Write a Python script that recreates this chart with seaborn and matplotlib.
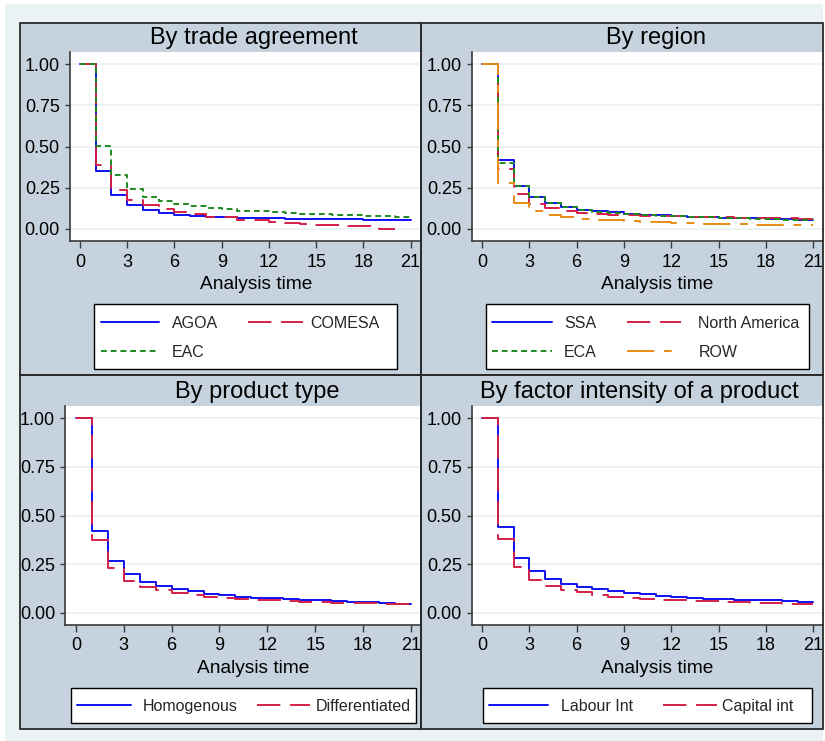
import matplotlib
matplotlib.use("Agg")
import matplotlib.pyplot as plt
import seaborn as sns
from matplotlib.patches import Rectangle
import matplotlib.ticker as ticker

#
# 01. Dados (sobrevivência de Kaplan-Meier)
#
tempo = list(range(22))
ticks_x = list(range(0, 22, 3))
ticks_y = [0.0, 0.25, 0.50, 0.75, 1.00]

# Por acordo comercial
agoa = [1.0, 0.352, 0.204, 0.145, 0.117, 0.099, 0.085, 0.079, 0.073, 0.070, 0.068,
        0.066, 0.064, 0.062, 0.061, 0.060, 0.059, 0.058, 0.057, 0.056, 0.055, 0.055]
comesa = [1.0, 0.386, 0.236, 0.176, 0.147, 0.123, 0.105, 0.089, 0.075, 0.071, 0.057,
          0.053, 0.044, 0.036, 0.030, 0.026, 0.022, 0.018, 0.016, 0.002, 0.002]
eac = [1.0, 0.505, 0.329, 0.244, 0.196, 0.170, 0.152, 0.140, 0.127, 0.119, 0.111,
       0.107, 0.101, 0.097, 0.093, 0.091, 0.087, 0.083, 0.081, 0.079, 0.075, 0.075]

# Por região
ssa = [1.0, 0.420, 0.262, 0.196, 0.160, 0.133, 0.117, 0.107, 0.101, 0.093, 0.087,
       0.083, 0.079, 0.075, 0.072, 0.069, 0.067, 0.064, 0.061, 0.058, 0.055, 0.055]
north_america = [1.0, 0.361, 0.212, 0.153, 0.127, 0.111, 0.099, 0.093, 0.087, 0.083, 0.081,
                 0.079, 0.076, 0.075, 0.073, 0.070, 0.068, 0.067, 0.066, 0.064, 0.063, 0.063]
eca = [1.0, 0.400, 0.258, 0.193, 0.158, 0.131, 0.115, 0.105, 0.099, 0.091, 0.086,
       0.081, 0.077, 0.073, 0.070, 0.067, 0.064, 0.062, 0.059, 0.056, 0.053, 0.053]
row = [1.0, 0.281, 0.160, 0.111, 0.085, 0.071, 0.063, 0.057, 0.053, 0.047, 0.043,
       0.040, 0.037, 0.034, 0.032, 0.030, 0.028, 0.027, 0.025, 0.024, 0.022, 0.022]

# Por tipo de produto
homogenous = [1.0, 0.422, 0.268, 0.197, 0.160, 0.139, 0.120, 0.110, 0.098, 0.091, 0.082,
              0.077, 0.074, 0.069, 0.067, 0.063, 0.060, 0.057, 0.053, 0.050, 0.046, 0.046]
differentiated = [1.0, 0.376, 0.228, 0.165, 0.134, 0.115, 0.103, 0.089, 0.082, 0.075, 0.070,
                  0.067, 0.063, 0.060, 0.057, 0.055, 0.051, 0.050, 0.048, 0.045, 0.045, 0.045]

# Por intensidade de fator
labour_int = [1.0, 0.439, 0.283, 0.214, 0.175, 0.149, 0.132, 0.120, 0.110, 0.101, 0.094,
              0.086, 0.081, 0.075, 0.072, 0.069, 0.067, 0.065, 0.063, 0.060, 0.057, 0.057]
capital_int = [1.0, 0.379, 0.233, 0.168, 0.136, 0.117, 0.105, 0.091, 0.082, 0.075, 0.070,
               0.067, 0.063, 0.060, 0.058, 0.055, 0.053, 0.051, 0.050, 0.046, 0.043, 0.043]

#
# 02. Estilos das linhas
#
azul, vermelho, verde, laranja = "#1010f0", "#d41f45", "#1f8a1f", "#e88c14"
solido = "-"
tracejado = (0, (12, 5))
pontilhado = (0, (3, 2))
traco_ponto = (0, (14, 5, 4, 5))

# series em ordem de leitura da legenda (linha a linha)
# colunas da legenda: (x inicial da amostra em px, comprimento, espaço até o texto)
paineis = [
    dict(titulo="By trade agreement", titulo_xy=(254, 44), xlabel_xy=(256, 289),
         eixo=(70, 51.7, 421, 241), ylim=(-0.073, 1.075), xlim=(-0.635, 21.66),
         caixa_leg=(94, 304, 396.7, 369), y_leg=315.5,
         colunas=[(100.7, 3.66, 0.8), (248, 3.42, 0.46)],
         series=[("AGOA", agoa, azul, solido),
                 ("COMESA", comesa, vermelho, tracejado),
                 ("EAC", eac, verde, pontilhado)]),
    dict(titulo="By region", titulo_xy=(656, 44), xlabel_xy=(657, 289),
         eixo=(472, 51.7, 822.7, 241), ylim=(-0.073, 1.075), xlim=(-0.634, 21.59),
         caixa_leg=(486, 304, 809, 369), y_leg=315.5,
         colunas=[(492.3, 3.71, 0.77), (626.7, 3.38, 1.1)],
         series=[("SSA", ssa, azul, solido),
                 ("North America", north_america, vermelho, tracejado),
                 ("ECA", eca, verde, pontilhado),
                 ("ROW", row, laranja, traco_ponto)]),
    dict(titulo="By product type", titulo_xy=(257.7, 398.3), xlabel_xy=(253.3, 672.7),
         eixo=(65.3, 406, 421, 625), ylim=(-0.063, 1.063), xlim=(-0.671, 21.64),
         caixa_leg=(71, 688.3, 415.7, 722.7), y_leg=699.0,
         colunas=[(77.3, 3.34, 0.75), (257.3, 3.29, 0.37)],
         series=[("Homogenous", homogenous, azul, solido),
                 ("Differentiated", differentiated, vermelho, tracejado)]),
    dict(titulo="By factor intensity of a product", titulo_xy=(639, 398.3), xlabel_xy=(657, 672.7),
         eixo=(472, 406, 822.7, 625), ylim=(-0.063, 1.063), xlim=(-0.634, 21.59),
         caixa_leg=(482.7, 688.3, 812.3, 722.7), y_leg=699.0,
         colunas=[(489.3, 3.65, 0.87), (663.3, 3.34, 0.31)],
         series=[("Labour Int", labour_int, azul, solido),
                 ("Capital int", capital_int, vermelho, tracejado)]),
]

# Caixas dos subgráficos (pixels)
caixas_paineis = [(19.5, 22.7, 421, 375.3), (421, 22.7, 822.7, 375.3),
                  (19.5, 375.3, 421, 729.3), (421, 375.3, 822.7, 729.3)]

#
# 03. Tema
#
sns.set_theme(style="white")
plt.rcParams['font.family'] = ['Liberation Sans', 'DejaVu Sans']

W, H = 825, 741
fig = plt.figure(figsize=(W / 100, H / 100), dpi=100)
fig.patch.set_facecolor("white")


def fx(p):
    return p / W


def fy(p):
    return 1 - p / H


def caixa(x0, y0, x1, y1):
    return [fx(x0), fy(y1), fx(x1) - fx(x0), fy(y0) - fy(y1)]


# Fundo claro do gráfico
fig.add_artist(Rectangle((fx(5), 0), fx(823) - fx(5), fy(4), transform=fig.transFigure,
                         facecolor="#eaf2f3", edgecolor="none", zorder=-3))

for (x0, y0, x1, y1) in caixas_paineis:
    l, b, w, h = caixa(x0, y0, x1, y1)
    fig.add_artist(Rectangle((l, b), w, h, transform=fig.transFigure,
                             facecolor="#c6d3df", edgecolor="none", zorder=-2))
    fig.add_artist(Rectangle((l, b), w, h, transform=fig.transFigure, fill=False,
                             edgecolor="#2a2a2a", linewidth=1.3, zorder=10))

#
# 04. Gráficos
#
for p in paineis:
    ax = fig.add_axes(caixa(*p["eixo"]))
    ax.set_facecolor("white")
    for rotulo, valores, cor, estilo in p["series"]:
        sns.lineplot(x=tempo[:len(valores)], y=valores, ax=ax, color=cor,
                     linestyle=estilo, linewidth=1.4, drawstyle="steps-post",
                     label=rotulo, errorbar=None)

    ax.set_xlim(*p["xlim"])
    ax.set_ylim(*p["ylim"])
    ax.set_xticks(ticks_x)
    ax.set_yticks(ticks_y)
    ax.yaxis.set_major_formatter(ticker.FormatStrFormatter("%.2f"))
    ax.set_xlabel("")
    ax.set_ylabel("")

    ax.yaxis.grid(True, color="#eaf2f3", linewidth=1.3)
    ax.set_axisbelow(True)

    for lado in ["top", "right"]:
        ax.spines[lado].set_visible(False)
    for lado in ["left", "bottom"]:
        ax.spines[lado].set_color("#3a3a3a")
        ax.spines[lado].set_linewidth(1.2)

    ax.tick_params(axis="y", left=True, direction="out", length=3.3, width=1,
                   color="#3a3a3a", pad=4, labelsize=13, labelcolor="black")
    ax.tick_params(axis="x", bottom=True, direction="out", length=5, width=1,
                   color="#3a3a3a", pad=4, labelsize=13, labelcolor="black")

    # Título e rótulo do eixo X
    fig.text(fx(p["titulo_xy"][0]), fy(p["titulo_xy"][1]), p["titulo"],
             ha="center", va="baseline", fontsize=17, color="black")
    fig.text(fx(p["xlabel_xy"][0]), fy(p["xlabel_xy"][1]), "Analysis time",
             ha="center", va="baseline", fontsize=13.8, color="black")

    # Caixa da legenda
    l, b, w, h = caixa(*p["caixa_leg"])
    ax.add_patch(Rectangle((l, b), w, h, transform=fig.transFigure, clip_on=False,
                           facecolor="white", edgecolor="black", linewidth=1.0, zorder=4))

    # Legenda: uma coluna de cada vez
    handles, labels = ax.get_legend_handles_labels()
    legendas = []
    for c, (x_col, comprimento, espaco) in enumerate(p["colunas"]):
        leg = ax.legend(handles[c::2], labels[c::2], loc="upper left",
                        bbox_to_anchor=(fx(x_col), fy(p["y_leg"])),
                        bbox_transform=fig.transFigure, frameon=False,
                        borderpad=0, borderaxespad=0, fontsize=11.5,
                        handlelength=comprimento, handletextpad=espaco,
                        labelspacing=0.9)
        leg.set_zorder(5)
        legendas.append(leg)
    for leg in legendas[:-1]:
        ax.add_artist(leg)

#
# 05. Gerando imagem
#
plt.savefig("out.png", dpi=100, facecolor=fig.get_facecolor())
